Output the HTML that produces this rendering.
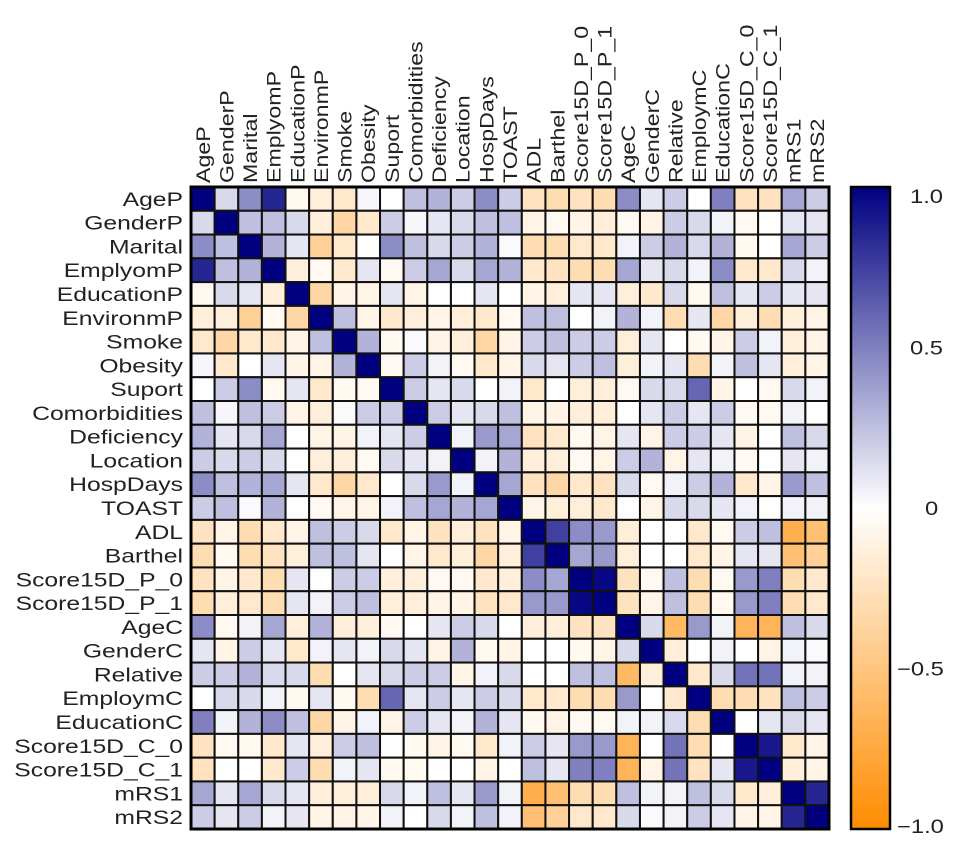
<!DOCTYPE html>
<html><head><meta charset="utf-8">
<style>
html,body{margin:0;padding:0;background:#fff;}
svg{display:block;font-family:"Liberation Sans",Arial,sans-serif;}
text{fill:#222;}
</style></head>
<body>
<svg id="chart" width="969" height="849" viewBox="0 0 969 849" xmlns="http://www.w3.org/2000/svg">
<defs>
<linearGradient id="cbgrad" x1="0" y1="0" x2="0" y2="1">
<stop offset="0" stop-color="#000080"/>
<stop offset="0.5" stop-color="#ffffff"/>
<stop offset="1" stop-color="#ff8c00"/>
</linearGradient>
</defs>
<g id="cells"></g>
<g id="xlabels"></g>
<g id="ylabels"></g>
<rect x="191" y="187" width="638" height="642" fill="none" stroke="#000" stroke-width="3"/>
<g>
<rect x="851" y="187" width="39" height="642" fill="url(#cbgrad)" stroke="#000" stroke-width="2.5"/>
</g>
<g id="cbticks"></g>
</svg>
<script>
const categories = ["AgeP","GenderP","Marital","EmplyomP","EducationP","EnvironmP","Smoke","Obesity","Suport","Comorbidities","Deficiency","Location","HospDays","TOAST","ADL","Barthel","Score15D_P_0","Score15D_P_1","AgeC","GenderC","Relative","EmploymC","EducationC","Score15D_C_0","Score15D_C_1","mRS1","mRS2"];
// upper-triangle correlations (row i, columns i+1..end)
const upper = [
[0.15,0.45,0.85,-0.05,-0.15,-0.2,0.03,0.0,0.25,0.3,0.2,0.45,0.2,-0.25,-0.3,-0.25,-0.3,0.45,0.1,0.2,0.0,0.5,-0.25,-0.25,0.35,0.2],
[0.25,0.25,0.15,-0.15,-0.35,-0.2,0.2,0.03,0.1,0.15,0.25,0.25,-0.1,-0.05,-0.1,-0.15,-0.05,-0.1,0.2,0.15,0.05,-0.05,0.0,0.1,0.1],
[0.3,0.1,-0.4,-0.2,0.0,0.45,0.25,0.15,0.2,0.3,0.02,-0.3,-0.3,-0.2,-0.2,0.05,0.2,0.3,0.15,0.3,-0.05,0.0,0.35,0.2],
[-0.15,-0.05,-0.2,0.1,-0.05,0.2,0.35,0.15,0.35,0.3,-0.2,-0.25,-0.3,-0.3,0.35,0.1,0.15,0.05,0.45,-0.2,-0.2,0.15,0.05],
[-0.35,-0.1,-0.1,0.1,-0.1,0.0,0.0,0.1,0.0,-0.1,-0.15,0.1,0.1,-0.15,-0.2,0.15,-0.05,0.25,0.1,0.2,0.1,0.1],
[0.25,-0.1,-0.2,-0.15,-0.1,-0.15,-0.2,-0.05,0.25,0.25,0.0,0.05,0.3,0.05,-0.3,0.1,-0.35,-0.15,-0.3,-0.15,-0.1],
[0.3,-0.05,0.02,-0.1,-0.15,-0.35,-0.1,0.2,0.25,0.2,0.2,-0.15,0.1,0.0,-0.05,-0.1,0.2,0.05,-0.15,-0.1],
[-0.05,0.2,0.05,-0.05,-0.2,-0.1,0.15,0.1,0.2,0.25,-0.15,0.05,0.1,-0.3,0.05,0.25,0.1,-0.15,-0.1],
[0.2,0.1,0.15,0.0,0.05,-0.2,0.0,-0.15,-0.15,-0.05,0.15,0.15,0.6,-0.1,0.0,-0.05,0.15,0.05],
[0.2,0.1,0.15,0.25,-0.1,-0.1,-0.15,-0.15,0.0,0.1,0.2,0.1,0.2,-0.05,-0.05,0.05,0.0],
[0.05,0.4,0.35,-0.25,-0.2,-0.05,-0.1,0.1,-0.1,0.2,0.2,0.1,-0.1,0.0,0.25,0.15],
[0.05,0.3,-0.15,-0.15,-0.05,-0.1,0.2,0.3,-0.1,0.1,0.05,-0.05,0.0,0.1,0.05],
[0.35,-0.25,-0.35,-0.2,-0.25,0.15,-0.05,0.05,0.2,0.3,-0.2,-0.1,0.4,0.25],
[-0.1,-0.15,-0.15,-0.2,0.0,-0.1,0.15,0.15,0.1,0.05,0.0,0.05,0.05],
[0.75,0.45,0.4,-0.15,0.0,0.0,-0.2,-0.05,0.2,0.25,-0.7,-0.55],
[0.35,0.4,-0.15,0.0,0.0,-0.2,-0.1,0.1,0.1,-0.55,-0.4],
[0.97,-0.25,-0.05,0.25,-0.3,-0.05,0.4,0.5,-0.3,-0.2],
[-0.25,-0.1,0.25,-0.3,-0.05,0.4,0.5,-0.3,-0.2],
[0.15,-0.6,0.4,0.05,-0.65,-0.65,0.25,0.15],
[-0.15,0.0,0.05,0.0,-0.1,0.05,0.02],
[-0.2,0.15,0.55,0.55,0.05,0.05],
[-0.3,-0.3,-0.25,0.25,0.2],
[0.0,0.1,0.15,0.1],
[0.9,-0.2,-0.1],
[-0.15,-0.1],
[0.85],
[]
];
const tickValues = [1.0,0.5,0,-0.5,-1.0];
const tickLabels = ["1.0","0.5","0","\u22120.5","\u22121.0"];

const NS="http://www.w3.org/2000/svg";
const X0=191,Y0=187,W=638,H=642,n=categories.length;
const cw=W/n, ch=H/n;
const xPos=i=>X0+i*cw, yPos=i=>Y0+i*ch;
function corr(i,j){ if(i===j) return 1; return i<j?upper[i][j-i-1]:upper[j][i-j-1]; }
function color(v){
  v=Math.max(-1,Math.min(1,v));
  let r,g,b;
  if(v>=0){ r=255*(1-v); g=255*(1-v); b=255-127*v; }
  else { const t=-v; r=255; g=255-115*t; b=255*(1-t); }
  return `rgb(${Math.round(r)},${Math.round(g)},${Math.round(b)})`;
}
const cells=document.getElementById('cells');
for(let i=0;i<n;i++){for(let j=0;j<n;j++){
  const r=document.createElementNS(NS,'rect');
  
  
  r.setAttribute('x',xPos(j));r.setAttribute('y',yPos(i));
  r.setAttribute('width',cw);r.setAttribute('height',ch);
  r.setAttribute('fill',color(corr(i,j)));
  r.setAttribute('stroke','#111');r.setAttribute('stroke-width','2');
  cells.appendChild(r);
}}
const xl=document.getElementById('xlabels'), yl=document.getElementById('ylabels');
categories.forEach((c,i)=>{
  const t=document.createElementNS(NS,'text');
  
  
  const x=xPos(i)+cw/2+7, y=183;
  t.setAttribute('transform',`translate(${x},${y}) rotate(-90) scale(1.22,1)`);
  t.setAttribute('font-size','19');t.textContent=c;xl.appendChild(t);
  const u=document.createElementNS(NS,'text');
  
  
  u.setAttribute('transform',`translate(183,${yPos(i)+ch/2+7}) scale(1.3,1)`);
  u.setAttribute('text-anchor','end');u.setAttribute('font-size','19');
  u.textContent=c;yl.appendChild(u);
});
const cb=document.getElementById('cbticks');
const cbY=v=>Y0+(1-v)/2*H;
tickValues.forEach((v,k)=>{
  const y=cbY(v);
  const t=document.createElementNS(NS,'text');
  
  
  const ty=v===1?y+16:(v===-1?y+4:y+7);
  const tx=v<0?897:(v===0?925:910);
  t.setAttribute('transform',`translate(${tx},${ty}) scale(1.25,1)`);
  t.setAttribute('font-size','19');t.textContent=tickLabels[k];cb.appendChild(t);
});
</script>
</body></html>
